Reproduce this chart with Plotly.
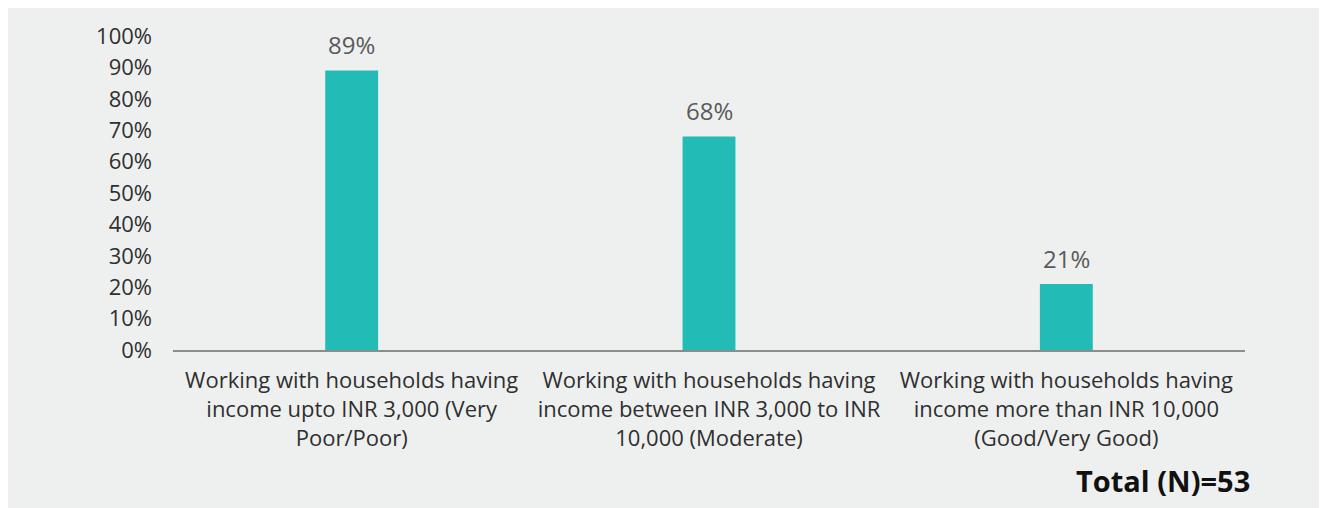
import plotly.graph_objects as go

categories = [
    "Working with households having<br>income upto INR 3,000 (Very<br>Poor/Poor)",
    "Working with households having<br>income between INR 3,000 to INR<br>10,000 (Moderate)",
    "Working with households having<br>income more than INR 10,000<br>(Good/Very Good)",
]
values = [0.89, 0.68, 0.21]
value_labels = ["89%", "68%", "21%"]
y_ticks = [0, 0.1, 0.2, 0.3, 0.4, 0.5, 0.6, 0.7, 0.8, 0.9, 1.0]
y_tick_labels = ["0%", "10%", "20%", "30%", "40%", "50%", "60%", "70%", "80%", "90%", "100%"]
total_note = "Total (N)=53"

W, H = 1327, 508
L, R, T, B = 165, 90, 22, 166
pw, ph = W - L - R, H - T - B
BG = "#eef0ef"
FONT = "Open Sans"

fig = go.Figure()
fig.add_trace(go.Bar(
    x=categories, y=values, marker=dict(color="#22bbb5", line=dict(width=0)),
    width=0.148, hoverinfo="skip",
))

for c, v, t in zip(categories, values, value_labels):
    fig.add_annotation(x=c, y=v, text=t, showarrow=False, yanchor="middle", yshift=26,
                       font=dict(family=FONT, size=24, color="#5a5a5a"))

def px_x(p):
    return (p - L) / pw

def px_y(p):
    return (H - B - p) / ph

fig.add_annotation(xref="paper", yref="paper", x=px_x(1244), y=px_y(475), xanchor="right", yanchor="middle",
                   text="<b>" + total_note + "</b>", showarrow=False,
                   font=dict(family=FONT, size=29, color="#111111"))

fig.update_layout(
    width=W, height=H,
    margin=dict(l=L, r=R, t=T, b=B, pad=0),
    paper_bgcolor=BG, plot_bgcolor=BG,
    showlegend=False,
    font=dict(family=FONT, color="#333333"),
    xaxis=dict(showgrid=False, showline=True, linecolor="#8c8c8c", linewidth=2, ticks="",
               tickfont=dict(family=FONT, size=22, color="#2f2f2f"), ticklabelstandoff=10),
    yaxis=dict(range=[0, 1], showgrid=False, zeroline=False, showline=False, ticks="",
               tickvals=y_ticks, ticktext=y_tick_labels,
               tickfont=dict(family=FONT, size=22, color="#2f2f2f"), ticklabelstandoff=20),
)

fig.write_html("out.html")
